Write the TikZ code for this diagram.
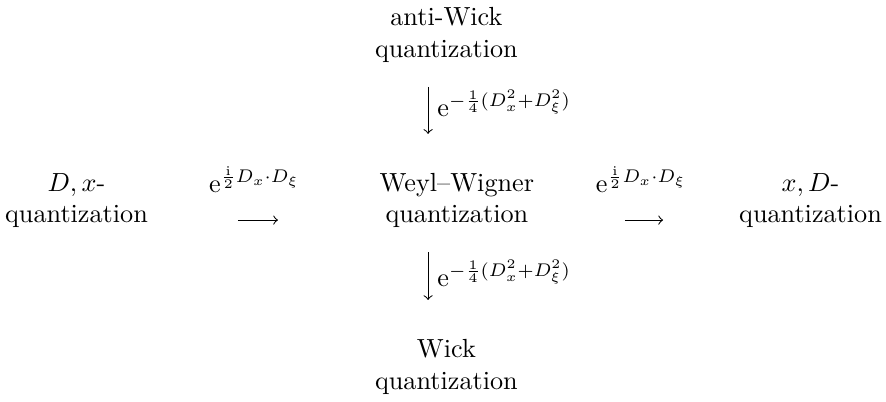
\documentclass[tikz,border=0pt]{standalone}
\usepackage{amsmath}
\usetikzlibrary{positioning}

\begin{document}
\begin{tikzpicture}[
        >=to,
        qnode/.style={
            align=center,
            inner sep=0pt,
            anchor=base
        },
        lbl/.style={
            inner sep=0pt,
            anchor=base
        },
        arr/.style={
            ->,
            line width=0.4pt
        }
    ]
        \useasboundingbox (0pt,0pt) rectangle (338.2pt,-153.4pt);

        % quantizations
        \node[qnode] (awq) at (170.4pt,-21.8pt) {anti-Wick\\quantization};
        \node[qnode] (ww)  at (174.4pt,-85.1pt) {Weyl--Wigner\\quantization};
        \node[qnode] (dxq) at (29.2pt,-85.1pt) {$D,x$-\\quantization};
        \node[qnode] (xdq) at (309.4pt,-85.1pt) {$x,D$-\\quantization};
        \node[qnode] (wq)  at (170.4pt,-148.6pt) {Wick\\quantization};

        % arrow ends
        \coordinate (top1) at (163.4pt,-33.2pt);
        \coordinate (top2) at (163.4pt,-51.1pt);
        \coordinate (bot1) at (163.4pt,-96.2pt);
        \coordinate (bot2) at (163.4pt,-114.5pt);
        \coordinate (lft1) at (90.8pt,-84pt);
        \coordinate (lft2) at (106.1pt,-84pt);
        \coordinate (rgt1) at (238.5pt,-84pt);
        \coordinate (rgt2) at (253.1pt,-84pt);

        % labels
        \node[lbl] (elft) at (97.1pt,-73.3pt) {$\mathrm{e}^{\frac{\mathrm{i}}{2}D_x\cdot D_\xi}$};
        \node[lbl] (ergt) at (244.7pt,-73.3pt) {$\mathrm{e}^{\frac{\mathrm{i}}{2}D_x\cdot D_\xi}$};
        \node[lbl, anchor=base west] (etop) at (166.8pt,-44.6pt) {$\mathrm{e}^{-\frac{1}{4}(D_x^2+D_\xi^2)}$};
        \node[lbl, anchor=base west] (ebot) at (166.8pt,-109.5pt) {$\mathrm{e}^{-\frac{1}{4}(D_x^2+D_\xi^2)}$};

        \draw[arr] (top1) -- (top2);
        \draw[arr] (bot1) -- (bot2);
        \draw[arr] (lft1) -- (lft2);
        \draw[arr] (rgt1) -- (rgt2);
    \end{tikzpicture}
\end{document}
